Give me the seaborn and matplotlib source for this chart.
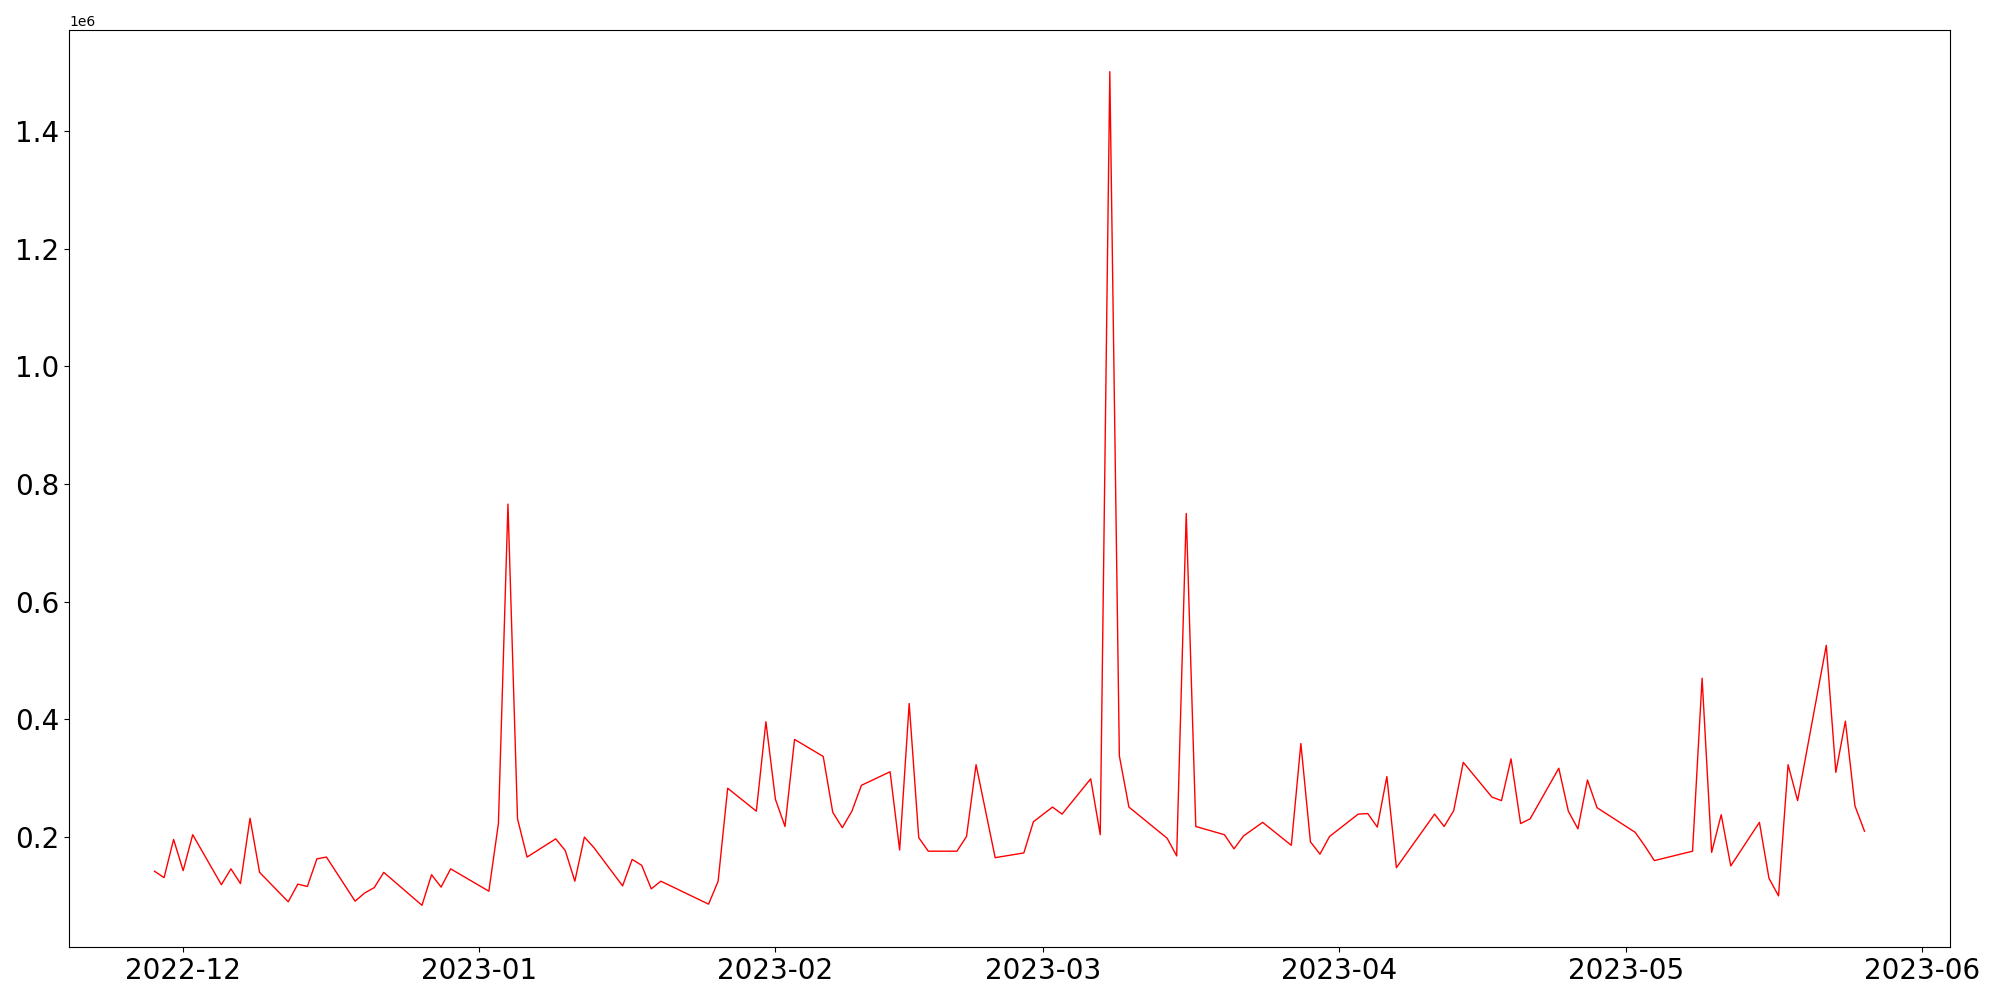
import pandas as pd
import seaborn as sns
import matplotlib.pyplot as plt

# Dates and values
dates = [
    '2022-11-28', '2022-11-29', '2022-11-30', '2022-12-01', '2022-12-02',
    '2022-12-05', '2022-12-06', '2022-12-07', '2022-12-08', '2022-12-09',
    '2022-12-12', '2022-12-13', '2022-12-14', '2022-12-15', '2022-12-16',
    '2022-12-19', '2022-12-20', '2022-12-21', '2022-12-22', '2022-12-26',
    '2022-12-27', '2022-12-28', '2022-12-29', '2023-01-02', '2023-01-03',
    '2023-01-04', '2023-01-05', '2023-01-06', '2023-01-09', '2023-01-10',
    '2023-01-11', '2023-01-12', '2023-01-13', '2023-01-16', '2023-01-17',
    '2023-01-18', '2023-01-19', '2023-01-20', '2023-01-25', '2023-01-26',
    '2023-01-27', '2023-01-30', '2023-01-31', '2023-02-01', '2023-02-02',
    '2023-02-03', '2023-02-06', '2023-02-07', '2023-02-08', '2023-02-09',
    '2023-02-10', '2023-02-13', '2023-02-14', '2023-02-15', '2023-02-16',
    '2023-02-17', '2023-02-20', '2023-02-21', '2023-02-22', '2023-02-24',
    '2023-02-27', '2023-02-28', '2023-03-02', '2023-03-03', '2023-03-06',
    '2023-03-07', '2023-03-08', '2023-03-09', '2023-03-10', '2023-03-14',
    '2023-03-15', '2023-03-16', '2023-03-17', '2023-03-20', '2023-03-21',
    '2023-03-22', '2023-03-24', '2023-03-27', '2023-03-28', '2023-03-29',
    '2023-03-30', '2023-03-31', '2023-04-03', '2023-04-04', '2023-04-05',
    '2023-04-06', '2023-04-07', '2023-04-11', '2023-04-12', '2023-04-13',
    '2023-04-14', '2023-04-17', '2023-04-18', '2023-04-19', '2023-04-20',
    '2023-04-21', '2023-04-24', '2023-04-25', '2023-04-26', '2023-04-27',
    '2023-04-28', '2023-05-02', '2023-05-03', '2023-05-04', '2023-05-08',
    '2023-05-09', '2023-05-10', '2023-05-11', '2023-05-12', '2023-05-15',
    '2023-05-16', '2023-05-17', '2023-05-18', '2023-05-19', '2023-05-22',
    '2023-05-23', '2023-05-24', '2023-05-25', '2023-05-26',
]

volume = [
    142000, 131000, 196000, 143000, 204000,
    119000, 146000, 121000, 232000, 140000,
    90000, 120000, 116000, 163000, 166000,
    91000, 105000, 114000, 140000, 84000,
    136000, 115000, 146000, 108000, 223000,
    766000, 231000, 166000, 197000, 177000,
    125000, 200000, 182000, 117000, 162000,
    152000, 112000, 125000, 86000, 125000,
    283000, 244000, 396000, 264000, 218000,
    366000, 337000, 242000, 216000, 244000,
    288000, 311000, 178000, 427000, 199000,
    176000, 176000, 201000, 323000, 165000,
    173000, 226000, 251000, 239000, 299000,
    204000, 1501000, 338000, 251000, 198000,
    168000, 750000, 218000, 204000, 180000,
    202000, 225000, 186000, 359000, 192000,
    171000, 201000, 239000, 240000, 217000,
    303000, 148000, 239000, 218000, 245000,
    327000, 268000, 262000, 333000, 223000,
    231000, 317000, 244000, 214000, 297000,
    250000, 208000, 185000, 160000, 176000,
    470000, 174000, 238000, 151000, 225000,
    130000, 100000, 323000, 262000, 526000,
    310000, 397000, 253000, 210000,
]

df = pd.DataFrame({'date': pd.to_datetime(dates), 'volume': volume})

fig, ax = plt.subplots(figsize=(20, 10), dpi=100)
sns.lineplot(x='date', y='volume', data=df, color='red', linewidth=1, ax=ax)

ax.set_xlabel('')
ax.set_ylabel('')
plt.xticks(fontsize=20)
plt.yticks(fontsize=20)

plt.subplots_adjust(left=0.0345, right=0.975, top=0.97, bottom=0.053)
plt.savefig('out.png')
